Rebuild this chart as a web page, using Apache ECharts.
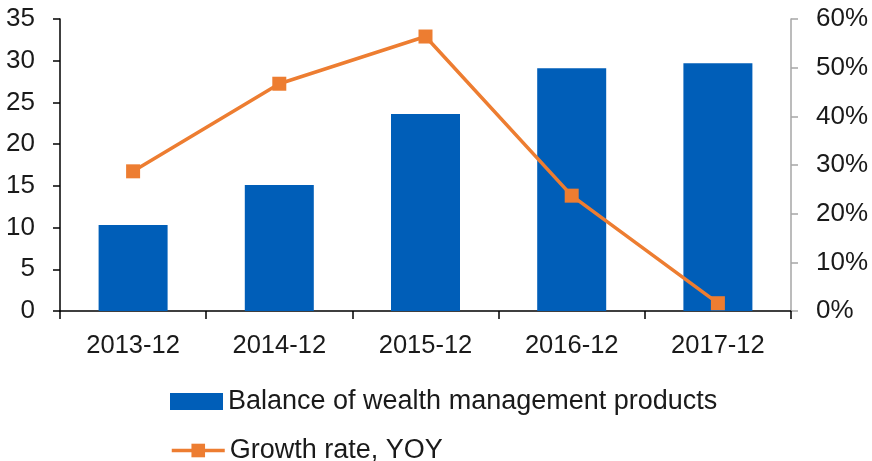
<!DOCTYPE html>
<html>
<head>
<meta charset="utf-8">
<script src="https://cdn.jsdelivr.net/npm/echarts@6/dist/echarts.min.js"></script>
<style>
  html, body { margin: 0; padding: 0; background: #fff; }
  #chart { width: 872px; height: 461px; }
</style>
</head>
<body>
<div id="chart"></div>
<script>
const categories = ["2013-12", "2014-12", "2015-12", "2016-12", "2017-12"];
const balance = [10.3, 15.1, 23.6, 29.1, 29.7];
const growthYoy = [28.7, 46.7, 56.4, 23.7, 1.6];

const font = "Liberation Sans";
const textColor = "#1a1a1a";
const blue = "#005eb8";
const orange = "#ed7d31";

const chart = echarts.init(document.getElementById("chart"));

const legendBase = {
  left: 165,
  itemWidth: 53,
  itemHeight: 17,
  lineStyle: {width: 3.5},
  textStyle: {fontFamily: font, fontSize: 27, color: textColor},
}

chart.setOption({
  animation: false,
  textStyle: {fontFamily: font},
  grid: {left: 60, right: 81, top: 19, bottom: 150},
  legend: [
    {...legendBase, top: 383, data: [{name: "Balance of wealth management products", icon: "rect"}]},
    {...legendBase, top: 432, data: [{name: "Growth rate, YOY"}]},
  ],
  xAxis: {
    type: "category",
    data: categories,
    axisLine: {lineStyle: {color: "#000", width: 1.5}},
    axisTick: {show: true, length: 8, lineStyle: {color: "#000", width: 1.5}},
    axisLabel: {fontSize: 25.5, color: textColor, margin: 22},
  },
  yAxis: [
    {
      type: "value",
      min: 0,
      max: 35,
      interval: 5,
      axisLine: {show: true, lineStyle: {color: "#000", width: 1.5}},
      axisTick: {show: true, length: 7, lineStyle: {color: "#000", width: 1.5}},
      axisLabel: {fontSize: 26, color: textColor, margin: 25},
      splitLine: {show: false},
    },
    {
      type: "value",
      min: 0,
      max: 60,
      interval: 10,
      position: "right",
      axisLine: {show: true, lineStyle: {color: "#a6a6a6", width: 1.5}},
      axisTick: {show: true, length: 7, lineStyle: {color: "#a6a6a6", width: 1.5}},
      axisLabel: {fontSize: 26, color: textColor, margin: 25, formatter: "{value}%"},
      splitLine: {show: false},
    },
  ],
  series: [
    {
      name: "Balance of wealth management products",
      type: "bar",
      data: balance,
      barWidth: 69,
      itemStyle: {color: blue},
    },
    {
      name: "Growth rate, YOY",
      type: "line",
      yAxisIndex: 1,
      data: growthYoy,
      symbol: "rect",
      symbolSize: 14,
      lineStyle: {color: orange, width: 3.5},
      itemStyle: {color: orange},
    },
  ],
});
</script>
</body>
</html>
